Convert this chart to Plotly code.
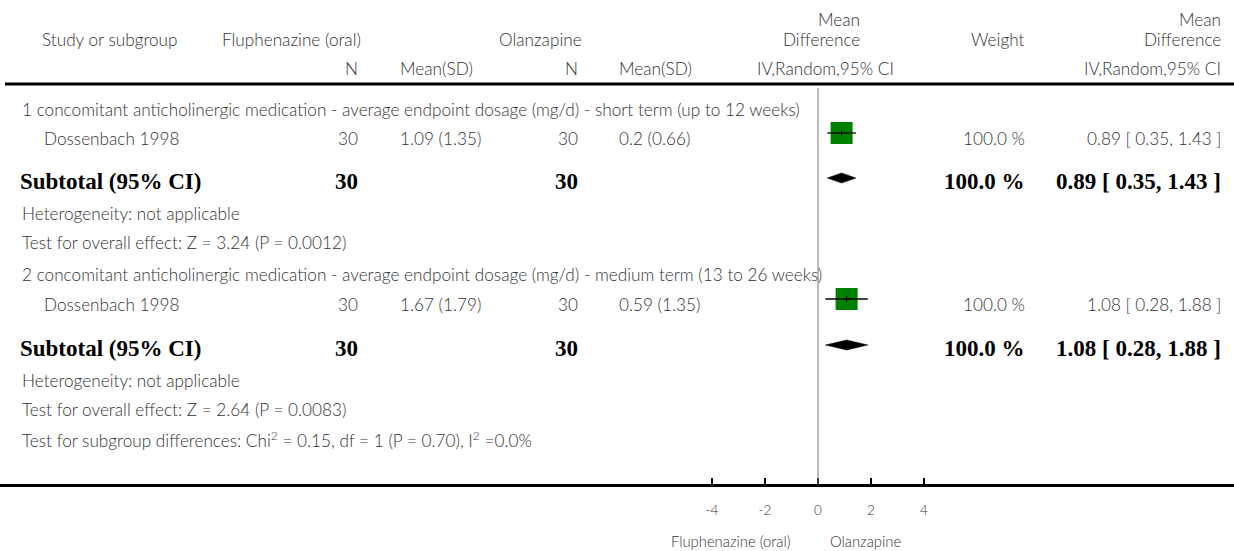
import plotly.graph_objects as go

# ---------------- data ----------------
subgroups = [
    "1 concomitant anticholinergic medication - average endpoint dosage (mg/d) - short term (up to 12 weeks)",
    "2 concomitant anticholinergic medication - average endpoint dosage (mg/d) - medium term (13 to 26 weeks)",
]
studies = ["Dossenbach 1998", "Dossenbach 1998"]
n_fluph = [30, 30]
msd_fluph = ["1.09 (1.35)", "1.67 (1.79)"]
n_olanz = [30, 30]
msd_olanz = ["0.2 (0.66)", "0.59 (1.35)"]
md = [0.89, 1.08]
ci_lo = [0.35, 0.28]
ci_hi = [1.43, 1.88]
weights = ["100.0 %", "100.0 %"]
sub_md = [0.89, 1.08]
sub_lo = [0.35, 0.28]
sub_hi = [1.43, 1.88]
heterogeneity = ["Heterogeneity: not applicable", "Heterogeneity: not applicable"]
overall = ["Test for overall effect: Z = 3.24 (P = 0.0012)",
           "Test for overall effect: Z = 2.64 (P = 0.0083)"]
subgroup_diff = "Test for subgroup differences: Chi<sup>2</sup> = 0.15, df = 1 (P = 0.70), I<sup>2</sup> =0.0%"
tick_vals = [-4, -2, 0, 2, 4]
tick_text = ["-4", "-2", "0", "2", "4"]
left_label = "Fluphenazine (oral)"
right_label = "Olanzapine"

# ---------------- layout constants ----------------
W, H = 1234, 551
AX_Y = 484
PX_PER_UNIT = 26.5
X0 = 818
xr = [-X0 / PX_PER_UNIT, (W - X0) / PX_PER_UNIT]

FONT = "Lato"
SERIF = "Liberation Serif"
GREY = "#333333"
FS = 17.2
BFS = 23

def px(x):
    return x / W

annos = []
def txt(x, y, s, anchor="left", size=FS, color=GREY, family=FONT, yref="y", weight=300):
    annos.append(dict(x=px(x), y=y if yref == "y" else (AX_Y - y) / AX_Y, xref="paper", yref=yref,
                      text=s, showarrow=False, xanchor=anchor, yanchor="middle",
                      font=dict(size=size, family=family, color=color, weight=weight)))

# header
txt(110, 39, "Study or subgroup", "center")
txt(220, 39, "Fluphenazine (oral)", "left")
txt(540, 39, "Olanzapine", "center")
txt(862, 19, "Mean", "right")
txt(862, 39, "Difference", "right")
txt(1027, 39, "Weight", "right")
txt(1223, 19, "Mean", "right")
txt(1223, 39, "Difference", "right")
txt(360, 68, "N", "right")
txt(398, 68, "Mean(SD)", "left")
txt(580, 68, "N", "right")
txt(617, 68, "Mean(SD)", "left")
txt(896, 68, "IV,Random,95% CI", "right")
txt(1223, 68, "IV,Random,95% CI", "right")

row_sub = [109, 274]
row_study = [138, 304]
row_tot = [181, 348]
row_het = [213, 380]
row_ov = [242, 409]

for i in range(2):
    txt(20, row_sub[i], subgroups[i])
    txt(42, row_study[i], studies[i])
    txt(360, row_study[i], str(n_fluph[i]), "right")
    txt(398, row_study[i], msd_fluph[i])
    txt(580, row_study[i], str(n_olanz[i]), "right")
    txt(617, row_study[i], msd_olanz[i])
    txt(1027, row_study[i], weights[i], "right")
    txt(1223, row_study[i], f"{md[i]:.2f} [ {ci_lo[i]:.2f}, {ci_hi[i]:.2f} ]", "right")
    txt(18, row_tot[i], "<b>Subtotal (95% CI)</b>", size=BFS, family=SERIF, color="black", weight=700)
    txt(360, row_tot[i], f"<b>{n_fluph[i]}</b>", "right", size=BFS, family=SERIF, color="black", weight=700)
    txt(580, row_tot[i], f"<b>{n_olanz[i]}</b>", "right", size=BFS, family=SERIF, color="black", weight=700)
    txt(1027, row_tot[i], "<b>100.0 %</b>", "right", size=BFS, family=SERIF, color="black", weight=700)
    txt(1223, row_tot[i], f"<b>{sub_md[i]:.2f} [ {sub_lo[i]:.2f}, {sub_hi[i]:.2f} ]</b>", "right",
        size=BFS, family=SERIF, color="black", weight=700)
    txt(20, row_het[i], heterogeneity[i])
    txt(20, row_ov[i], overall[i])
txt(20, 439, subgroup_diff)

# axis footer labels
txt(731, 541, left_label, "center", size=14.8, yref="paper")
txt(866, 541, right_label, "center", size=14.8, yref="paper")

fig = go.Figure()

for i in range(2):
    yr = row_study[i] - 5
    fig.add_trace(go.Scatter(x=[md[i]], y=[yr], mode="markers",
                             marker=dict(symbol="square", size=22, color="#008000",
                                         line=dict(width=0)),
                             showlegend=False, hoverinfo="skip"))
    fig.add_trace(go.Scatter(x=[ci_lo[i], ci_hi[i]], y=[yr, yr],
                             mode="lines", line=dict(color="black", width=1.3),
                             showlegend=False, hoverinfo="skip"))
    fig.add_trace(go.Scatter(x=[md[i], md[i]], y=[yr - 3, yr + 3],
                             mode="lines", line=dict(color="black", width=1),
                             showlegend=False, hoverinfo="skip"))
    yc = row_tot[i] - 3
    fig.add_trace(go.Scatter(x=[sub_lo[i], sub_md[i], sub_hi[i], sub_md[i], sub_lo[i]],
                             y=[yc, yc - 5, yc, yc + 5, yc], mode="lines", fill="toself",
                             fillcolor="black", line=dict(color="black", width=0.5),
                             showlegend=False, hoverinfo="skip"))

shapes = [
    dict(type="line", xref="paper", yref="y", x0=px(5), x1=1, y0=84, y1=84,
         line=dict(color="black", width=3)),
    dict(type="line", xref="x", yref="y", x0=0, x1=0, y0=88, y1=AX_Y,
         line=dict(color="#777777", width=1)),
]

fig.update_layout(
    width=W, height=H,
    margin=dict(l=0, r=0, t=0, b=H - AX_Y, pad=0),
    paper_bgcolor="white", plot_bgcolor="white",
    annotations=annos, shapes=shapes,
    xaxis=dict(range=xr, showgrid=False, zeroline=False, showline=True,
               linecolor="black", linewidth=3, ticks="inside", ticklen=6,
               tickwidth=2, tickcolor="black", tickvals=tick_vals, ticktext=tick_text,
               tickfont=dict(family=FONT, size=13.5, color=GREY, weight=300),
               ticklabelstandoff=12, fixedrange=True),
    yaxis=dict(range=[AX_Y, 0], showgrid=False, zeroline=False, showticklabels=False,
               showline=False, fixedrange=True),
)

fig.write_html("out.html", config={"displayModeBar": False},
               post_script="document.body.style.margin='0';document.body.style.overflow='hidden';")
